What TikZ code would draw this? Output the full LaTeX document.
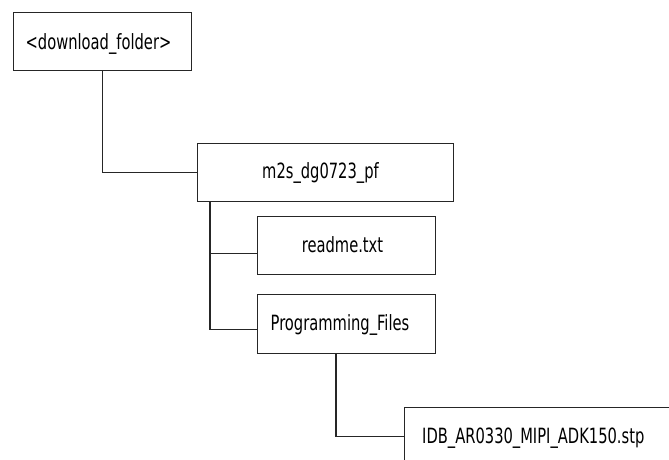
\documentclass[tikz,border=0pt]{standalone}
\usepackage{fontspec}
\setmainfont[FakeStretch=0.7]{DejaVu Sans}
\begin{document}
\begin{tikzpicture}[x=1pt,y=-1pt,
  box/.style={draw=black!85,line width=1.3pt,rectangle,inner sep=0pt,anchor=north west},
  lbl/.style={inner sep=0pt,anchor=base,font=\fontsize{21}{25}\selectfont},
  conn/.style={draw=black!85,line width=1.1pt}]
\useasboundingbox (0,0) rectangle (669,460);
\clip (0,0) rectangle (669,460);
\node[box,minimum width=178pt,minimum height=58pt] (dl) at (13,12) {};
\node[box,minimum width=256pt,minimum height=58pt] (m2s) at (197,143) {};
\node[box,minimum width=178pt,minimum height=58pt] (readme) at (257,216) {};
\node[box,minimum width=178pt,minimum height=59pt] (prog) at (257,294) {};
\node[box,minimum width=300pt,minimum height=57pt] (idb) at (404,407) {};
\node[lbl] (tdl) at (98.5,50) {<download\_folder>};
\node[lbl] (tm2s) at (320.5,178) {m2s\_dg0723\_pf};
\node[lbl] (treadme) at (342.5,252) {readme.txt};
\node[lbl] (tprog) at (340,330) {Programming\_Files};
\node[lbl,anchor=base west] (tidb) at (422,443) {IDB\_AR0330\_MIPI\_ADK150.stp};
\draw[conn] (dl.south) |- (m2s.west);
\draw[conn] ([xshift=13pt]m2s.south west) |- ([yshift=-8pt]readme.west);
\draw[conn] ([xshift=13pt]m2s.south west) |- ([yshift=-5pt]prog.west);
\draw[conn] ([xshift=79pt]prog.south west) |- (idb.west);
\end{tikzpicture}
\end{document}
